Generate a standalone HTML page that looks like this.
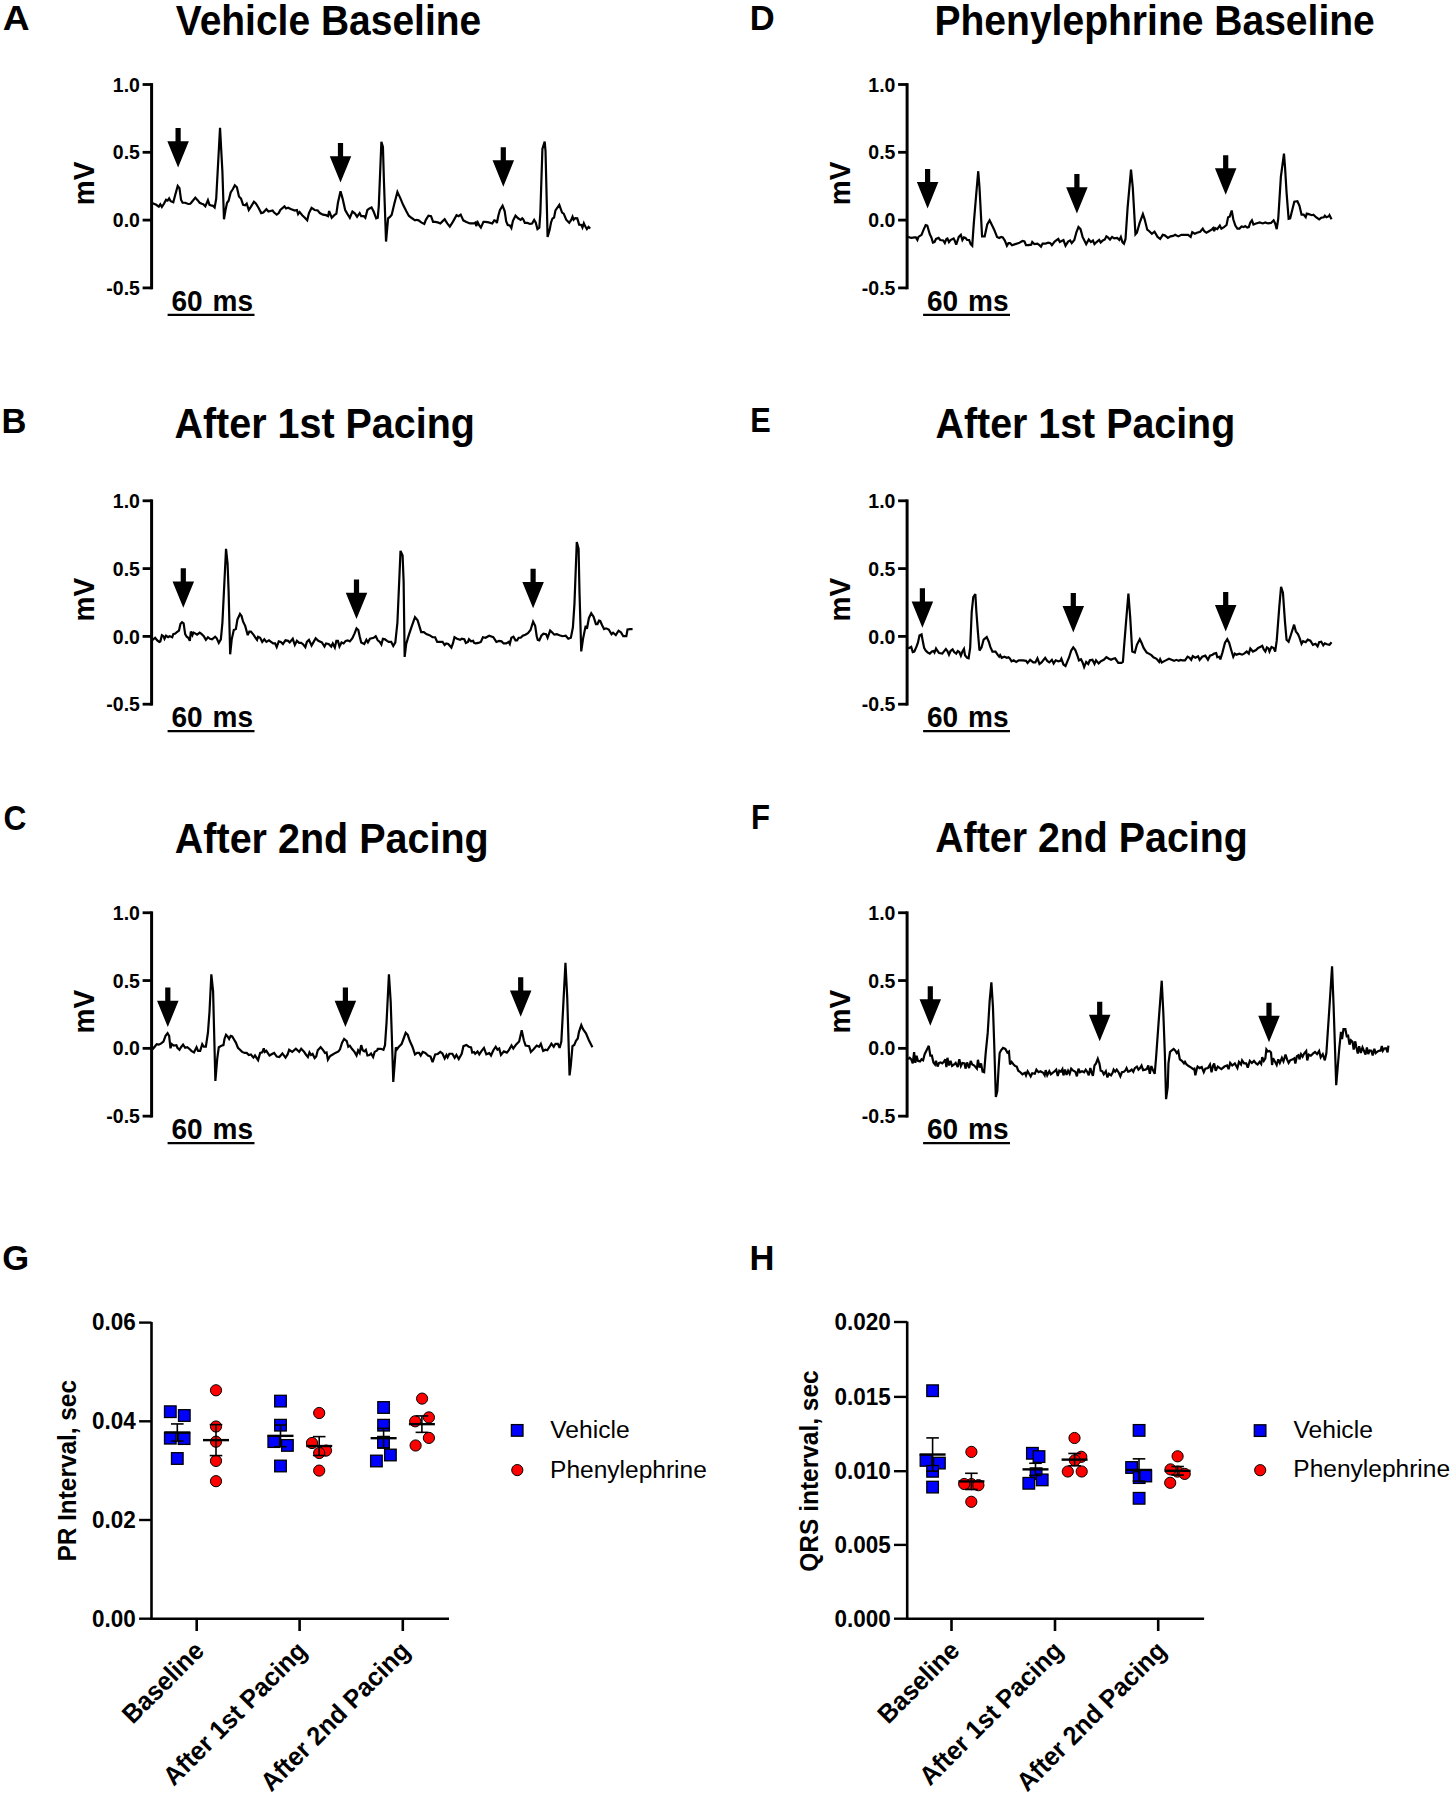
<!DOCTYPE html><html><head><meta charset="utf-8"><style>html,body{margin:0;padding:0;background:#fff;width:1450px;height:1794px;overflow:hidden}svg{display:block}</style></head><body>
<svg width="1450" height="1794" viewBox="0 0 1450 1794" font-family='"Liberation Sans", sans-serif' fill="#000">
<rect width="1450" height="1794" fill="#fff"/>
<line x1="151.6" y1="83.1" x2="151.6" y2="289.3" stroke="#000" stroke-width="3.0"/>
<line x1="142.6" y1="84.5" x2="151.6" y2="84.5" stroke="#000" stroke-width="2.8"/>
<line x1="142.6" y1="152.3" x2="151.6" y2="152.3" stroke="#000" stroke-width="2.8"/>
<line x1="142.6" y1="220.1" x2="151.6" y2="220.1" stroke="#000" stroke-width="2.8"/>
<line x1="142.6" y1="287.9" x2="151.6" y2="287.9" stroke="#000" stroke-width="2.8"/>
<text transform="translate(139.9,91.6) scale(1.0000,1.0400)" text-anchor="end" font-size="19.5" font-weight="bold">1.0</text>
<text transform="translate(139.9,159.4) scale(1.0000,1.0400)" text-anchor="end" font-size="19.5" font-weight="bold">0.5</text>
<text transform="translate(139.9,227.2) scale(1.0000,1.0400)" text-anchor="end" font-size="19.5" font-weight="bold">0.0</text>
<text transform="translate(139.9,295) scale(1.0000,1.0400)" text-anchor="end" font-size="19.5" font-weight="bold">-0.5</text>
<text transform="translate(94,183.4) rotate(-90) scale(1.0000,1.0400)" text-anchor="middle" font-size="28" font-weight="bold">mV</text>
<text transform="translate(171.5,310.8) scale(1.0000,1.0400)" font-size="28" font-weight="bold">60</text>
<text transform="translate(212.6,310.8) scale(1.0000,1.0400)" font-size="28" font-weight="bold">ms</text>
<line x1="167.6" y1="314.9" x2="254.5" y2="314.9" stroke="#000" stroke-width="2.2"/>
<line x1="151.6" y1="499.4" x2="151.6" y2="705.6" stroke="#000" stroke-width="3.0"/>
<line x1="142.6" y1="500.8" x2="151.6" y2="500.8" stroke="#000" stroke-width="2.8"/>
<line x1="142.6" y1="568.6" x2="151.6" y2="568.6" stroke="#000" stroke-width="2.8"/>
<line x1="142.6" y1="636.4" x2="151.6" y2="636.4" stroke="#000" stroke-width="2.8"/>
<line x1="142.6" y1="704.2" x2="151.6" y2="704.2" stroke="#000" stroke-width="2.8"/>
<text transform="translate(139.9,507.9) scale(1.0000,1.0400)" text-anchor="end" font-size="19.5" font-weight="bold">1.0</text>
<text transform="translate(139.9,575.7) scale(1.0000,1.0400)" text-anchor="end" font-size="19.5" font-weight="bold">0.5</text>
<text transform="translate(139.9,643.5) scale(1.0000,1.0400)" text-anchor="end" font-size="19.5" font-weight="bold">0.0</text>
<text transform="translate(139.9,711.3) scale(1.0000,1.0400)" text-anchor="end" font-size="19.5" font-weight="bold">-0.5</text>
<text transform="translate(94,599.7) rotate(-90) scale(1.0000,1.0400)" text-anchor="middle" font-size="28" font-weight="bold">mV</text>
<text transform="translate(171.5,727.1) scale(1.0000,1.0400)" font-size="28" font-weight="bold">60</text>
<text transform="translate(212.6,727.1) scale(1.0000,1.0400)" font-size="28" font-weight="bold">ms</text>
<line x1="167.6" y1="731.2" x2="254.5" y2="731.2" stroke="#000" stroke-width="2.2"/>
<line x1="151.6" y1="911.35" x2="151.6" y2="1117.55" stroke="#000" stroke-width="3.0"/>
<line x1="142.6" y1="912.75" x2="151.6" y2="912.75" stroke="#000" stroke-width="2.8"/>
<line x1="142.6" y1="980.55" x2="151.6" y2="980.55" stroke="#000" stroke-width="2.8"/>
<line x1="142.6" y1="1048.35" x2="151.6" y2="1048.35" stroke="#000" stroke-width="2.8"/>
<line x1="142.6" y1="1116.15" x2="151.6" y2="1116.15" stroke="#000" stroke-width="2.8"/>
<text transform="translate(139.9,919.85) scale(1.0000,1.0400)" text-anchor="end" font-size="19.5" font-weight="bold">1.0</text>
<text transform="translate(139.9,987.65) scale(1.0000,1.0400)" text-anchor="end" font-size="19.5" font-weight="bold">0.5</text>
<text transform="translate(139.9,1055.45) scale(1.0000,1.0400)" text-anchor="end" font-size="19.5" font-weight="bold">0.0</text>
<text transform="translate(139.9,1123.25) scale(1.0000,1.0400)" text-anchor="end" font-size="19.5" font-weight="bold">-0.5</text>
<text transform="translate(94,1011.65) rotate(-90) scale(1.0000,1.0400)" text-anchor="middle" font-size="28" font-weight="bold">mV</text>
<text transform="translate(171.5,1139.05) scale(1.0000,1.0400)" font-size="28" font-weight="bold">60</text>
<text transform="translate(212.6,1139.05) scale(1.0000,1.0400)" font-size="28" font-weight="bold">ms</text>
<line x1="167.6" y1="1143.15" x2="254.5" y2="1143.15" stroke="#000" stroke-width="2.2"/>
<line x1="907.1" y1="83.1" x2="907.1" y2="289.3" stroke="#000" stroke-width="3.0"/>
<line x1="898.1" y1="84.5" x2="907.1" y2="84.5" stroke="#000" stroke-width="2.8"/>
<line x1="898.1" y1="152.3" x2="907.1" y2="152.3" stroke="#000" stroke-width="2.8"/>
<line x1="898.1" y1="220.1" x2="907.1" y2="220.1" stroke="#000" stroke-width="2.8"/>
<line x1="898.1" y1="287.9" x2="907.1" y2="287.9" stroke="#000" stroke-width="2.8"/>
<text transform="translate(895.4,91.6) scale(1.0000,1.0400)" text-anchor="end" font-size="19.5" font-weight="bold">1.0</text>
<text transform="translate(895.4,159.4) scale(1.0000,1.0400)" text-anchor="end" font-size="19.5" font-weight="bold">0.5</text>
<text transform="translate(895.4,227.2) scale(1.0000,1.0400)" text-anchor="end" font-size="19.5" font-weight="bold">0.0</text>
<text transform="translate(895.4,295) scale(1.0000,1.0400)" text-anchor="end" font-size="19.5" font-weight="bold">-0.5</text>
<text transform="translate(849.5,183.4) rotate(-90) scale(1.0000,1.0400)" text-anchor="middle" font-size="28" font-weight="bold">mV</text>
<text transform="translate(927,310.8) scale(1.0000,1.0400)" font-size="28" font-weight="bold">60</text>
<text transform="translate(968.1,310.8) scale(1.0000,1.0400)" font-size="28" font-weight="bold">ms</text>
<line x1="923.1" y1="314.9" x2="1010" y2="314.9" stroke="#000" stroke-width="2.2"/>
<line x1="907.1" y1="499.4" x2="907.1" y2="705.6" stroke="#000" stroke-width="3.0"/>
<line x1="898.1" y1="500.8" x2="907.1" y2="500.8" stroke="#000" stroke-width="2.8"/>
<line x1="898.1" y1="568.6" x2="907.1" y2="568.6" stroke="#000" stroke-width="2.8"/>
<line x1="898.1" y1="636.4" x2="907.1" y2="636.4" stroke="#000" stroke-width="2.8"/>
<line x1="898.1" y1="704.2" x2="907.1" y2="704.2" stroke="#000" stroke-width="2.8"/>
<text transform="translate(895.4,507.9) scale(1.0000,1.0400)" text-anchor="end" font-size="19.5" font-weight="bold">1.0</text>
<text transform="translate(895.4,575.7) scale(1.0000,1.0400)" text-anchor="end" font-size="19.5" font-weight="bold">0.5</text>
<text transform="translate(895.4,643.5) scale(1.0000,1.0400)" text-anchor="end" font-size="19.5" font-weight="bold">0.0</text>
<text transform="translate(895.4,711.3) scale(1.0000,1.0400)" text-anchor="end" font-size="19.5" font-weight="bold">-0.5</text>
<text transform="translate(849.5,599.7) rotate(-90) scale(1.0000,1.0400)" text-anchor="middle" font-size="28" font-weight="bold">mV</text>
<text transform="translate(927,727.1) scale(1.0000,1.0400)" font-size="28" font-weight="bold">60</text>
<text transform="translate(968.1,727.1) scale(1.0000,1.0400)" font-size="28" font-weight="bold">ms</text>
<line x1="923.1" y1="731.2" x2="1010" y2="731.2" stroke="#000" stroke-width="2.2"/>
<line x1="907.1" y1="911.35" x2="907.1" y2="1117.55" stroke="#000" stroke-width="3.0"/>
<line x1="898.1" y1="912.75" x2="907.1" y2="912.75" stroke="#000" stroke-width="2.8"/>
<line x1="898.1" y1="980.55" x2="907.1" y2="980.55" stroke="#000" stroke-width="2.8"/>
<line x1="898.1" y1="1048.35" x2="907.1" y2="1048.35" stroke="#000" stroke-width="2.8"/>
<line x1="898.1" y1="1116.15" x2="907.1" y2="1116.15" stroke="#000" stroke-width="2.8"/>
<text transform="translate(895.4,919.85) scale(1.0000,1.0400)" text-anchor="end" font-size="19.5" font-weight="bold">1.0</text>
<text transform="translate(895.4,987.65) scale(1.0000,1.0400)" text-anchor="end" font-size="19.5" font-weight="bold">0.5</text>
<text transform="translate(895.4,1055.45) scale(1.0000,1.0400)" text-anchor="end" font-size="19.5" font-weight="bold">0.0</text>
<text transform="translate(895.4,1123.25) scale(1.0000,1.0400)" text-anchor="end" font-size="19.5" font-weight="bold">-0.5</text>
<text transform="translate(849.5,1011.65) rotate(-90) scale(1.0000,1.0400)" text-anchor="middle" font-size="28" font-weight="bold">mV</text>
<text transform="translate(927,1139.05) scale(1.0000,1.0400)" font-size="28" font-weight="bold">60</text>
<text transform="translate(968.1,1139.05) scale(1.0000,1.0400)" font-size="28" font-weight="bold">ms</text>
<line x1="923.1" y1="1143.15" x2="1010" y2="1143.15" stroke="#000" stroke-width="2.2"/>
<path d="M152.59,203.28 L156.21,204.83 L158.79,206.69 L160.34,204.31 L161.9,206.9 L163.97,203.79 L166.03,199.86 L167.59,200.69 L169.14,198.41 L170.69,201.21 L173.28,202.24 L175.34,194.48 L177.72,186 L179.48,188.28 L181.03,199.66 L182.59,202.76 L185.17,202.76 L188.28,204 L190.34,203.79 L192.41,201.21 L195.31,197.59 L197.59,200.17 L199.66,202.76 L201.72,203.79 L203.28,204.31 L205.34,206.38 L207.93,200.17 L209.48,204.83 L211.03,205.34 L213.1,205.86 L214.66,207.41 L216.21,198.62 L220.03,127.76 L222.41,171.72 L223.97,219.31 L225.52,210 L227.07,202.76 L228.62,200.69 L230.69,192.41 L232.76,189.31 L234.83,185.38 L236.9,187.24 L238.97,196.55 L241.03,198.62 L243.1,204.83 L245.17,205.34 L246.72,203.59 L248.79,210 L250.86,206.9 L253.97,201.72 L256.03,203.79 L258.62,207.93 L261.21,213.1 L263.28,212.59 L266.38,209.17 L268.45,211.55 L272.59,210.52 L274.14,212.59 L276.72,214.66 L278.79,213.1 L280.34,210 L284.48,206.38 L286.03,208.45 L288.1,207.72 L290.69,208.97 L294.83,210.52 L296.9,210 L298.1,214.14 L299.66,212.07 L302.24,215.17 L304.83,217.76 L307.21,220.34 L308.97,213.1 L311.55,207.93 L314.66,210 L317.76,210.52 L319.83,213.1 L322.93,214.66 L326.03,215.17 L328.1,216.21 L329.14,211.03 L331.72,217.76 L334.31,215.17 L336.38,213.62 L337.93,202.76 L340.52,191.17 L342.59,198.62 L345.17,210 L347.24,213.62 L349.83,217.76 L352.41,211.55 L355,213.62 L357.07,216.72 L359.66,213.1 L361.21,216.21 L363.79,216.21 L365.34,217.76 L367.41,210 L369.48,208.45 L371.55,207.41 L373.62,211.55 L376.21,218.28 L377.76,217.76 L378.79,205.86 L381.38,141.72 L382.93,146.9 L383.97,182.07 L386.03,241.55 L388.1,218.28 L390.17,216.72 L391.72,214.66 L394.31,203.79 L397.41,191.9 L400.52,198.62 L403.1,204.83 L406.21,211.03 L408.79,215.69 L411.38,217.76 L415,220.34 L416.55,219.83 L418.62,220.34 L421.21,222.41 L424.31,223.97 L425.86,219.83 L428.45,215.69 L431.03,216.21 L433.1,221.9 L435.17,221.9 L437.76,222.41 L440.34,223.45 L442.41,221.38 L444.66,219.31 L447.24,223.45 L449.83,226.55 L451.9,223.45 L453.97,219.83 L456.55,215.17 L458.62,216.21 L460.69,214.66 L463.28,220.34 L466.38,221.9 L470,223.45 L474.14,223.45 L475.69,222.41 L476.21,226.03 L477.76,222.41 L479.31,225.52 L480.86,227.59 L483.45,221.9 L485.52,221.9 L488.62,222.41 L492.24,223.45 L494.31,220.34 L495.86,220.86 L496.9,222.93 L498.45,215.17 L500,210 L502.59,205.66 L504.66,211.03 L506.21,221.38 L507.76,225 L509.83,225.52 L511.38,228.1 L512.93,220.86 L515.52,215.69 L518.1,218.28 L520.69,219.83 L522.24,218.28 L523.28,219.31 L524.83,222.93 L527.41,222.93 L530,223.97 L532.07,223.45 L534.14,219.83 L535.69,222.41 L537.45,229.14 L539.31,227.59 L540.34,213.1 L542.41,148.97 L544.69,141.52 L545.52,151.03 L547.59,236.9 L549.66,229.66 L551.03,222.48 L552.41,218.62 L554.07,217.52 L555.45,210.34 L559.31,204.83 L562.07,212.55 L563.72,213.66 L566.21,219.72 L569.24,222.76 L571.17,220 L572.55,216.69 L573.66,219.72 L575.31,218.07 L577.24,218.34 L579.17,224.69 L581.38,224.97 L582.48,227.45 L583.86,223.31 L585.24,226.34 L586.9,229.1 L588.55,226.9 L590.21,228.55" fill="none" stroke="#000" stroke-width="2.2" stroke-linejoin="miter" stroke-miterlimit="3"/>
<path d="M175.5,128.1 L180.7,128.1 L180.7,141.2 L188.85,141.2 L178.1,167.6 L167.35,141.2 L175.5,141.2 Z" fill="#000"/>
<path d="M337.9,143.1 L343.1,143.1 L343.1,156.2 L351.25,156.2 L340.5,182.6 L329.75,156.2 L337.9,156.2 Z" fill="#000"/>
<path d="M500.7,147.2 L505.9,147.2 L505.9,160.3 L514.05,160.3 L503.3,186.7 L492.55,160.3 L500.7,160.3 Z" fill="#000"/>
<path d="M152.59,639.83 L155.17,637.76 L157.24,640.34 L159.31,641.9 L160.34,641.38 L161.9,635.17 L163.45,636.21 L164.48,638.79 L166.03,635.69 L168.1,637.24 L169.66,636.21 L171.21,636.72 L172.24,637.24 L173.28,634.14 L175.34,633.62 L176.9,632.07 L178.97,630.52 L180.52,623.79 L182.07,622.24 L183.62,623.28 L185.17,634.14 L186.72,636.72 L188.28,637.76 L189.83,640.86 L190.86,631.55 L192.41,635.17 L193.45,632.59 L195.52,633.62 L197.07,634.66 L199.66,632.59 L201.72,634.14 L203.79,636.21 L205.86,639.83 L207.93,637.24 L210,638.79 L212.07,639.31 L215.17,636.72 L216.72,638.28 L218.79,642.93 L220.86,639.31 L222.41,622.76 L226.03,548.79 L227.59,563.79 L228.62,591.72 L230.17,654.31 L231.72,639.31 L233.79,630 L235.86,628.97 L237.41,619.66 L240,613.97 L241.55,616.03 L243.1,621.72 L245.17,625.86 L247.76,635.17 L249.31,631.55 L250.86,631.55 L253.45,634.66 L255.52,637.76 L257.07,639.83 L258.1,636.72 L260.17,637.76 L262.24,641.9 L264.31,639.31 L266.38,641.9 L268.97,640.34 L271.03,641.9 L273.1,643.45 L275.17,643.45 L276.72,647.07 L278.79,641.38 L280.86,641.9 L282.93,643.97 L285.52,640.34 L288.1,640.86 L289.66,642.41 L292.76,638.79 L294.83,645 L296.9,640.86 L299.14,642.93 L301.21,642.93 L303.28,644.48 L305.34,647.07 L306.9,641.9 L308.97,639.83 L311.55,645.52 L313.62,641.9 L315.69,638.28 L318.28,640.86 L321.9,642.41 L324.48,646.55 L326.03,643.45 L328.62,643.97 L331.21,646.55 L332.76,643.45 L334.83,647.59 L336.38,640.86 L337.93,640.86 L339.48,646.55 L341.55,642.41 L343.62,643.45 L345.69,640.86 L347.76,640.34 L349.83,641.38 L352.41,638.28 L354.48,633.62 L356.55,628.45 L358.31,630 L359.66,636.21 L361.21,642.41 L364.31,643.97 L366.38,639.83 L367.93,642.41 L370,638.79 L373.62,637.76 L375.69,636.21 L377.76,640.34 L379.83,641.9 L381.38,644.48 L382.93,638.79 L385,639.31 L387.07,640.86 L388.62,641.9 L391.21,641.9 L393.28,646.03 L395.34,642.41 L397.41,622.76 L400.52,550.86 L402.59,555.52 L403.62,581.38 L404.66,656.9 L406.21,643.97 L408.79,635.17 L411.9,625.86 L415,617.07 L417.59,620.17 L419.14,625.34 L421.21,632.07 L423.79,632.07 L426.38,634.14 L429.48,635.17 L432.59,637.24 L435.17,637.24 L436.21,639.83 L437.24,641.9 L439.83,641.9 L442.59,641.9 L444.66,645 L446.21,643.45 L448.28,643.97 L451.38,647.59 L452.93,643.45 L454.48,637.24 L457.07,638.79 L460.17,639.83 L461.72,638.79 L464.31,639.31 L465.86,642.93 L467.93,641.9 L468.97,639.31 L471.03,641.38 L473.1,640.86 L474.14,642.93 L475.69,643.45 L478.28,642.93 L480.86,641.9 L482.93,637.24 L485.52,637.76 L489.14,635.69 L493.28,637.24 L496.38,641.9 L498.97,640.86 L501.55,641.38 L503.62,643.45 L506.21,643.45 L508.79,641.9 L509.83,643.97 L511.38,637.76 L513.45,636.72 L515.52,640.34 L517.07,640.34 L518.62,637.76 L520.69,637.76 L522.76,635.69 L525.34,634.66 L527.93,633.1 L530.52,630 L533.1,621.72 L535.17,625.86 L536.72,636.21 L537.76,639.83 L539.31,640.34 L541.38,635.69 L543.45,633.62 L546.03,634.14 L547.59,637.76 L550.17,630.52 L552.24,632.59 L554.31,634.66 L556.9,634.14 L559.48,635.17 L562.59,636.21 L565.69,635.69 L568.28,638.79 L570.86,637.76 L572.88,627.57 L574.44,604.15 L576.78,542.1 L578.58,548.73 L579.51,592.45 L581.23,651.38 L583.03,638.89 L584.98,629.13 L585.76,625.62 L586.93,628.74 L588.88,618.2 L591.22,613.13 L593.56,616.64 L595.91,624.06 L597.47,624.06 L599.03,620.55 L600.2,620.94 L602.15,625.23 L604.1,629.13 L606.05,628.35 L608.79,629.52 L611.52,634.21 L613.08,632.65 L615.81,634.99 L618.54,630.69 L620.88,632.25 L623.23,636.16 L626.35,636.16 L627.52,629.52 L630.25,629.13 L632.59,629.13" fill="none" stroke="#000" stroke-width="2.2" stroke-linejoin="miter" stroke-miterlimit="3"/>
<path d="M180.7,568.3 L185.9,568.3 L185.9,581.4 L194.05,581.4 L183.3,607.8 L172.55,581.4 L180.7,581.4 Z" fill="#000"/>
<path d="M353.9,579.6 L359.1,579.6 L359.1,592.7 L367.25,592.7 L356.5,619.1 L345.75,592.7 L353.9,592.7 Z" fill="#000"/>
<path d="M530.5,568.8 L535.7,568.8 L535.7,581.9 L543.85,581.9 L533.1,608.3 L522.35,581.9 L530.5,581.9 Z" fill="#000"/>
<path d="M152.59,1049.31 L154.66,1046.72 L156.72,1044.14 L158.79,1044.66 L160.86,1043.62 L163.45,1041.55 L165.52,1035.86 L167.59,1033.28 L169.14,1035.86 L170.48,1048.28 L171.72,1044.14 L173.79,1045.69 L176.38,1045.17 L177.41,1047.76 L179.48,1049.83 L181.03,1047.24 L183.1,1044.66 L185.17,1047.76 L187.24,1047.24 L189.31,1048.79 L191.38,1050.86 L193.97,1052.41 L196.55,1047.24 L198.1,1050.86 L200.17,1050.86 L202.24,1044.14 L203.79,1046.72 L205.86,1046.72 L207.93,1032.76 L209.48,1012.07 L211.34,974.31 L213.1,991.38 L214.14,1032.76 L215.38,1080.97 L217.24,1058.62 L218.79,1047.24 L221.38,1045.69 L223.45,1045.17 L224.48,1038.97 L226.03,1034.83 L227.59,1036.38 L229.14,1038.97 L230.69,1035.86 L232.24,1036.38 L234.31,1040 L235.86,1042.59 L237.93,1047.76 L240,1049.83 L242.07,1051.9 L244.66,1052.93 L246.72,1052.93 L248.79,1055 L250.86,1054.48 L253.45,1057.59 L255,1055.52 L258.1,1060.17 L260.17,1052.93 L262.24,1052.41 L263.79,1048.28 L264.83,1051.9 L266.38,1050.86 L269.48,1055.52 L272.07,1053.97 L274.14,1052.93 L276.72,1056.55 L279.31,1057.07 L282.41,1053.45 L285.52,1057.59 L287.59,1054.48 L289.14,1049.83 L292.24,1051.9 L295.86,1048.79 L299.14,1051.9 L301.21,1048.79 L303.79,1051.38 L305.86,1054.48 L307.93,1057.07 L309.48,1052.41 L311.03,1055 L312.59,1053.97 L314.66,1058.1 L316.21,1056.55 L317.76,1050.34 L320.66,1047.24 L322.93,1049.83 L325,1052.93 L326.55,1052.41 L327.9,1059.66 L330.17,1056.03 L332.76,1054.48 L335.34,1052.93 L338.45,1051.38 L340,1049.31 L342.07,1042.59 L344.14,1038.97 L346.72,1041.03 L348.28,1046.72 L349.83,1045.69 L351.9,1048.79 L354.48,1051.9 L356.55,1055.52 L358.1,1050.34 L359.66,1052.93 L361.21,1045.17 L362.76,1050.34 L364.31,1051.38 L365.86,1049.83 L367.41,1055.52 L369.48,1055 L371.03,1053.45 L373.1,1057.07 L374.66,1051.9 L377.24,1050.34 L377.76,1048.79 L380.86,1048.79 L383.45,1049.83 L385,1045.17 L386.55,1022.41 L388.93,974.31 L390.69,1001.72 L391.72,1032.76 L393.28,1081.9 L394.83,1061.72 L395.86,1047.24 L396.9,1049.31 L398.45,1047.24 L401.55,1044.14 L403.1,1040 L405.69,1032.76 L407.76,1034.83 L409.83,1041.03 L412.41,1046.72 L415,1054.48 L417.07,1052.93 L419.14,1052.93 L420.69,1055.52 L422.76,1051.9 L425.34,1052.93 L427.93,1055.52 L430.52,1056.55 L432.59,1062.24 L435.17,1054.48 L437.76,1053.97 L440.34,1051.9 L442.41,1053.45 L444.69,1058.45 L446.45,1054.93 L447.62,1057.28 L449.38,1053.76 L452.31,1053.76 L454.66,1057.86 L456.41,1054.93 L458.76,1059.03 L461.69,1053.76 L463.45,1046.14 L466.38,1044.97 L468.72,1046.72 L471.07,1047.31 L472.24,1052.59 L474,1052 L475.17,1053.76 L477.52,1051.41 L479.28,1054.34 L481.62,1050.83 L483.97,1047.9 L486.31,1054.34 L489.24,1053.17 L491,1055.52 L493.34,1050.24 L495.69,1046.72 L497.45,1049.66 L499.21,1048.48 L500.97,1054.93 L503.9,1051.41 L506.83,1052.59 L509.17,1049.66 L511.52,1045.55 L513.28,1048.48 L516.21,1044.38 L519.14,1041.45 L521.72,1030.31 L523.83,1040.28 L525.59,1045.55 L529.1,1046.14 L530.86,1052 L533.79,1049.07 L536.72,1045.55 L539.07,1046.72 L540.83,1043.79 L543.17,1050.83 L545.52,1049.66 L547.28,1050.24 L549.62,1046.72 L551.38,1043.79 L553.72,1046.72 L555.48,1043.79 L557.83,1043.79 L559.59,1047.9 L561.34,1041.45 L563.1,1008.62 L565.45,962.9 L567.21,996.9 L569.55,1075.45 L570.72,1066.07 L572.48,1046.14 L574.24,1044.97 L576,1040.86 L577.76,1038.52 L578.93,1032.07 L581.28,1025.03 L583.03,1029.14 L585.97,1033.24 L588.9,1040.28 L592.41,1047.31" fill="none" stroke="#000" stroke-width="2.2" stroke-linejoin="miter" stroke-miterlimit="3"/>
<path d="M165.2,987.6 L170.4,987.6 L170.4,1000.7 L178.55,1000.7 L167.8,1027.1 L157.05,1000.7 L165.2,1000.7 Z" fill="#000"/>
<path d="M342.8,987.6 L348,987.6 L348,1000.7 L356.15,1000.7 L345.4,1027.1 L334.65,1000.7 L342.8,1000.7 Z" fill="#000"/>
<path d="M518.1,977.3 L523.3,977.3 L523.3,990.4 L531.45,990.4 L520.7,1016.8 L509.95,990.4 L518.1,990.4 Z" fill="#000"/>
<path d="M908.1,236.9 L911.21,237.93 L914.83,237.41 L915.86,237.41 L917.41,240 L918.45,236.9 L921.55,234.83 L923.62,229.66 L925.69,225 L927.24,225.52 L929.83,234.31 L931.38,237.41 L932.93,242.59 L934.48,242.07 L936.03,238.97 L938.62,237.93 L940.17,240 L943.28,240.52 L944.83,243.1 L946.38,238.97 L947.41,238.45 L948.97,242.07 L950.52,240 L953.62,238.45 L954.66,240.52 L956.21,244.66 L957.76,240 L958.79,236.9 L960.86,234.83 L962.41,240 L963.97,237.41 L965.52,237.93 L967.07,240 L969.14,240 L970.69,244.14 L972.24,245.69 L973.79,223.45 L976.38,192.41 L978.24,171.21 L979.48,187.24 L982.07,236.38 L984.66,236.38 L987.24,224.48 L989.62,220.34 L991.9,225 L993.97,229.14 L997.07,236.9 L999.14,237.93 L1001.21,236.9 L1002.76,237.41 L1004.83,240.52 L1006.9,245.69 L1008.45,243.1 L1010,243.1 L1012.07,245.17 L1015.17,244.14 L1018.79,243.1 L1022.41,241.03 L1024.48,241.55 L1026.03,245.17 L1028.1,245.17 L1031.21,244.66 L1032.24,242.07 L1034.31,244.14 L1037.41,243.62 L1039.48,245.17 L1041.03,246.72 L1042.59,243.62 L1045.69,243.62 L1048.28,242.59 L1050.34,243.1 L1051.9,245.17 L1054.66,241.55 L1058.28,238.97 L1059.83,242.07 L1063.45,240 L1065.52,245.69 L1068.1,241.55 L1070.17,240.52 L1071.72,243.1 L1074.31,240 L1076.38,232.24 L1078.45,227.07 L1080.52,229.14 L1082.59,236.9 L1084.14,240 L1086.21,244.14 L1088.79,239.48 L1090.86,242.07 L1092.93,240.52 L1094.48,244.14 L1096.55,242.07 L1099.14,240 L1100.69,242.59 L1102.76,240.52 L1104.83,239.48 L1106.38,236.38 L1107.93,237.41 L1110,239.48 L1112.07,236.9 L1114.14,238.45 L1117.24,237.93 L1119.31,240 L1120.86,236.9 L1122.41,242.07 L1123.97,243.62 L1125.52,238.97 L1127.59,207.93 L1131,169.66 L1132.76,187.24 L1135.45,234.31 L1136.9,232.76 L1139.48,223.45 L1142.9,214.14 L1144.66,219.31 L1147.24,229.66 L1149.31,231.21 L1151.9,233.79 L1154.48,231.72 L1157.59,236.9 L1160.17,238.97 L1162.76,234.83 L1164.83,235.34 L1167.93,237.93 L1170.52,236.38 L1173.1,235.86 L1175.17,234.83 L1178.28,236.38 L1181.38,234.83 L1184.48,234.83 L1188.1,234.83 L1190.69,236.9 L1192.24,232.24 L1194.83,233.79 L1196.9,232.76 L1200.17,231.72 L1202.76,228.62 L1204.31,231.21 L1206.38,232.76 L1208.97,231.21 L1211.55,229.66 L1213.1,228.1 L1214.14,231.21 L1215.17,228.1 L1217.24,229.14 L1219.83,225.52 L1221.38,228.62 L1223.97,227.07 L1226.55,225 L1228.1,217.24 L1229.66,216.72 L1231.72,210.52 L1233.28,219.31 L1235.34,225.52 L1237.41,228.62 L1239.48,228.62 L1241.55,226.55 L1243.62,227.07 L1245.17,226.03 L1247.24,227.59 L1248.79,227.07 L1250.34,222.41 L1251.9,220.34 L1253.45,224.48 L1256.03,223.45 L1259.66,222.41 L1262.76,223.45 L1265.34,222.41 L1267.93,223.45 L1271.03,222.93 L1273.62,220.34 L1275.17,223.45 L1276.72,229.14 L1278.28,218.28 L1280.86,176.9 L1283.97,153.62 L1285,166.55 L1286.55,192.41 L1288.62,218.79 L1290.17,218.28 L1292.24,210 L1294.31,201.72 L1297.41,201.21 L1299.48,205.86 L1301.55,214.66 L1303.62,214.66 L1305.69,217.24 L1306.72,213.62 L1308.79,214.14 L1311.9,215.17 L1313.45,214.66 L1316.03,217.24 L1319.14,219.31 L1321.21,217.76 L1323.79,217.24 L1324.83,215.69 L1326.38,217.24 L1328.97,216.21 L1329.48,215.17 L1331.55,219.31" fill="none" stroke="#000" stroke-width="2.2" stroke-linejoin="miter" stroke-miterlimit="3"/>
<path d="M925,168.9 L930.2,168.9 L930.2,182 L938.35,182 L927.6,208.4 L916.85,182 L925,182 Z" fill="#000"/>
<path d="M1074.3,174.1 L1079.5,174.1 L1079.5,187.2 L1087.65,187.2 L1076.9,213.6 L1066.15,187.2 L1074.3,187.2 Z" fill="#000"/>
<path d="M1223.1,155.2 L1228.3,155.2 L1228.3,168.3 L1236.45,168.3 L1225.7,194.7 L1214.95,168.3 L1223.1,168.3 Z" fill="#000"/>
<path d="M908.1,648.45 L911.21,646.9 L912.76,652.07 L914.31,651.55 L916.38,646.9 L917.93,642.76 L919.48,635.52 L921.55,634.48 L923.1,642.76 L924.14,647.93 L925.69,650.52 L927.76,652.59 L929.83,653.62 L931.9,651.55 L933.45,651.03 L934.48,652.59 L936.03,648.45 L937.59,651.03 L939.14,653.1 L942.24,653.62 L943.79,651.55 L945.86,648.97 L947.41,651.03 L948.97,654.66 L950.52,651.03 L952.59,649.48 L954.14,652.07 L956.21,653.62 L957.76,651.03 L959.31,652.07 L960.86,655.69 L962.41,651.55 L963.97,648.97 L965,655.17 L967.07,657.76 L968.62,658.28 L970.17,647.93 L971.72,611.72 L973.28,597.24 L975.34,594.14 L976.38,611.72 L977.93,632.41 L979.48,650.52 L981.55,647.41 L983.62,639.66 L986.72,637.07 L988.79,641.72 L990.34,646.9 L992.41,651.55 L995.52,651.55 L997.59,654.66 L999.14,656.72 L1000.17,655.17 L1001.72,657.76 L1004.31,656.72 L1006.9,657.76 L1008.45,657.24 L1010,658.79 L1011.55,661.38 L1013.62,660.34 L1016.21,661.9 L1018.79,660.34 L1022.93,660.34 L1026.03,660.86 L1027.59,662.93 L1030.17,659.83 L1033.28,662.41 L1035.34,662.41 L1037.41,658.28 L1039.48,663.97 L1041.55,662.41 L1045.17,657.76 L1047.24,660.86 L1049.31,662.41 L1051.9,659.83 L1053.62,663.45 L1055.69,660.34 L1058.28,661.38 L1060.34,660.86 L1061.38,658.79 L1063.45,664.48 L1065.52,666.03 L1067.59,660.86 L1069.14,657.24 L1071.21,650.52 L1073.28,647.41 L1075.34,650 L1077.41,655.69 L1078.97,660.34 L1081.03,659.31 L1082.59,662.41 L1084.14,667.07 L1086.21,661.9 L1088.28,663.97 L1089.83,660.34 L1092.41,659.83 L1094.48,663.97 L1096.03,660.34 L1098.62,663.45 L1100.69,661.38 L1103.79,659.83 L1106.38,657.24 L1108.97,658.79 L1111.03,659.83 L1113.1,658.79 L1115.17,658.28 L1118.28,662.93 L1121.38,662.93 L1122.93,661.9 L1123.97,647.93 L1126.03,622.07 L1128.41,593.62 L1130.17,616.9 L1132.24,651.55 L1134.83,652.59 L1136.9,644.83 L1139.79,639.14 L1141.55,642.76 L1143.62,647.93 L1146.72,652.59 L1148.79,653.62 L1151.38,655.17 L1153.45,657.24 L1156.55,658.79 L1159.14,661.9 L1160.17,659.31 L1161.72,662.41 L1164.83,660.86 L1168.97,658.79 L1171.55,659.83 L1174.14,660.86 L1176.21,659.83 L1178.79,660.86 L1180.34,659.83 L1182.41,660.34 L1185,660.34 L1187.59,656.72 L1189.66,657.76 L1191.21,659.83 L1192.76,656.21 L1195.34,657.76 L1198.1,656.21 L1199.66,659.83 L1202.24,656.72 L1205.34,655.69 L1207.93,659.83 L1210,655.69 L1212.59,654.66 L1214.14,653.62 L1216.21,653.1 L1217.24,657.24 L1219.31,656.72 L1220.34,659.31 L1222.41,652.59 L1225,642.76 L1227.28,639.14 L1229.14,642.76 L1231.21,650 L1233.28,656.72 L1234.83,653.62 L1236.38,654.66 L1239.48,653.62 L1242.07,654.66 L1244.14,653.62 L1246.72,651.55 L1248.79,653.62 L1250.34,648.45 L1252.93,651.55 L1256.03,650 L1258.1,647.93 L1260.17,646.9 L1262.24,645.86 L1263.79,649.48 L1265.34,651.55 L1266.9,647.41 L1268.45,648.45 L1269.48,651.55 L1271.55,646.9 L1273.62,647.93 L1275.17,651.55 L1276.72,640.69 L1279.31,606.55 L1281.07,586.9 L1282.93,592.59 L1285,622.07 L1286.55,639.66 L1288.62,641.72 L1290.69,635.52 L1294.1,624.66 L1295.86,631.38 L1297.93,633.97 L1299.48,637.59 L1301.55,643.79 L1303.1,641.21 L1305.69,642.24 L1307.76,639.66 L1310.34,640.69 L1312.93,644.83 L1315.52,643.79 L1317.59,646.38 L1319.14,642.24 L1321.21,641.72 L1323.28,645.34 L1324.83,643.28 L1326.9,644.31 L1329.48,644.83 L1331.55,642.24" fill="none" stroke="#000" stroke-width="2.2" stroke-linejoin="miter" stroke-miterlimit="3"/>
<path d="M919.8,588.3 L925,588.3 L925,601.4 L933.15,601.4 L922.4,627.8 L911.65,601.4 L919.8,601.4 Z" fill="#000"/>
<path d="M1070.7,592.9 L1075.9,592.9 L1075.9,606 L1084.05,606 L1073.3,632.4 L1062.55,606 L1070.7,606 Z" fill="#000"/>
<path d="M1223.1,591.9 L1228.3,591.9 L1228.3,605 L1236.45,605 L1225.7,631.4 L1214.95,605 L1223.1,605 Z" fill="#000"/>
<path d="M908.1,1059.31 L909.66,1057.76 L911.21,1059.31 L912.76,1063.45 L914.1,1052.07 L915.34,1062.93 L916.59,1055.69 L917.93,1060.86 L920,1061.38 L921.55,1059.31 L923.1,1060.34 L924.66,1054.14 L926.72,1050 L928.79,1045.86 L930.34,1055.69 L931.9,1055.69 L933.45,1062.41 L935,1064.48 L936.03,1060.86 L937.59,1066.55 L939.14,1062.93 L940.69,1062.41 L942.24,1063.45 L943.79,1061.9 L945.34,1059.31 L946.38,1067.07 L947.41,1057.76 L948.97,1065.52 L950.52,1060.86 L952.07,1066.03 L954.14,1064.48 L955.69,1062.93 L957.76,1067.07 L959.31,1059.31 L960.86,1066.03 L962.41,1062.93 L964.48,1063.45 L965.52,1068.62 L967.07,1062.41 L969.14,1068.1 L970.69,1060.86 L972.24,1064.48 L974.31,1065.52 L976.9,1068.62 L977.93,1059.83 L979.48,1067.59 L981.03,1063.45 L982.59,1071.72 L984.14,1072.24 L985.69,1053.1 L987.76,1032.41 L989.62,1001.38 L991.38,982.24 L992.93,1006.55 L994.17,1042.76 L995.83,1097.07 L997.28,1091.38 L998.62,1067.59 L999.66,1053.1 L1001.21,1050 L1003.07,1047.93 L1005.34,1048.97 L1007.41,1052.59 L1008.97,1051.55 L1010,1064.48 L1011.55,1061.9 L1013.62,1064.48 L1015.17,1066.03 L1016.72,1066.55 L1018.28,1070.69 L1020.34,1072.24 L1022.41,1074.31 L1025,1072.76 L1026.03,1075.34 L1027.59,1071.21 L1029.14,1073.79 L1030.69,1076.38 L1032.24,1073.28 L1034.83,1073.79 L1036.38,1069.66 L1038.45,1072.24 L1040.52,1071.21 L1043.1,1072.76 L1044.66,1075.34 L1045.69,1070.17 L1047.24,1075.34 L1049.31,1071.21 L1050.86,1074.31 L1054.14,1071.72 L1056.21,1069.66 L1057.76,1075.86 L1059.31,1070.69 L1060.86,1071.72 L1062.41,1069.14 L1063.45,1075.34 L1065,1069.66 L1066.55,1074.83 L1068.1,1070.69 L1069.66,1073.79 L1071.21,1068.62 L1073.28,1070.69 L1075.34,1071.72 L1076.9,1076.38 L1078.45,1068.62 L1080,1072.24 L1082.07,1071.21 L1084.14,1072.24 L1085.69,1069.66 L1087.24,1071.72 L1088.79,1075.34 L1090.34,1068.1 L1091.9,1073.28 L1092.93,1075.86 L1094.48,1065.52 L1096.03,1063.45 L1097.79,1058.79 L1099.45,1063.45 L1100.69,1070.69 L1102.24,1071.21 L1103.79,1074.31 L1105.86,1071.21 L1107.41,1077.41 L1108.97,1073.79 L1111.03,1075.34 L1112.59,1072.76 L1113.62,1069.66 L1115.17,1071.72 L1116.72,1069.66 L1118.79,1072.76 L1120.34,1076.38 L1121.9,1072.24 L1123.97,1071.72 L1125.52,1070.17 L1126.55,1068.1 L1128.1,1071.72 L1129.66,1071.21 L1131.72,1069.66 L1133.28,1071.72 L1134.83,1068.1 L1136.9,1066.55 L1138.45,1069.66 L1140,1068.1 L1141.55,1065.52 L1143.1,1070.17 L1145.17,1069.66 L1146.72,1069.14 L1148.28,1065.52 L1149.83,1073.79 L1151.38,1066.03 L1152.93,1070.17 L1154.69,1073.79 L1156.03,1058.28 L1158.62,1022.07 L1161.72,980.69 L1163.28,1011.72 L1164.83,1053.1 L1166.07,1099.14 L1167.72,1087.24 L1168.45,1063.45 L1170,1052.07 L1171.55,1050.52 L1173.62,1048.97 L1175.17,1050.52 L1176.72,1053.1 L1178.28,1051.03 L1179.83,1059.31 L1181.9,1060.86 L1183.97,1063.45 L1185,1061.9 L1186.55,1064.48 L1188.62,1066.03 L1191.21,1067.59 L1193.28,1069.14 L1194.31,1068.62 L1195.34,1075.34 L1196.9,1068.62 L1197.59,1066.55 L1199.66,1068.1 L1201.72,1067.07 L1203.79,1072.24 L1205.34,1068.62 L1207.93,1068.1 L1210,1064.48 L1211.55,1072.24 L1213.1,1065.52 L1214.14,1063.45 L1215.69,1070.69 L1217.76,1066.55 L1221.38,1069.14 L1224.48,1066.55 L1227.07,1065.52 L1228.62,1069.14 L1230.17,1062.93 L1232.24,1065.52 L1234.83,1063.45 L1237.41,1068.1 L1238.97,1061.9 L1241.03,1064.48 L1242.07,1060.34 L1244.14,1063.45 L1246.21,1063.45 L1247.76,1067.59 L1249.83,1060.86 L1251.9,1062.93 L1253.97,1060.86 L1256.03,1063.45 L1257.59,1064.48 L1259.66,1061.9 L1261.21,1063.97 L1262.24,1057.24 L1263.79,1060.86 L1265.34,1058.28 L1266.38,1049.48 L1267.93,1051.55 L1269.48,1051.03 L1271.03,1052.59 L1272.07,1065 L1273.1,1058.28 L1275.17,1061.9 L1276.72,1065 L1278.28,1059.31 L1279.83,1062.93 L1281.9,1057.76 L1283.45,1061.38 L1285.52,1054.66 L1287.07,1059.31 L1288.62,1062.93 L1290.17,1060.34 L1292.76,1059.31 L1294.31,1058.28 L1295.34,1063.45 L1296.9,1056.21 L1298.45,1055.17 L1299.48,1059.31 L1301.03,1054.14 L1302.59,1056.72 L1304.14,1053.62 L1306.21,1051.03 L1307.24,1060.34 L1308.79,1054.66 L1310.86,1055.69 L1312.93,1053.62 L1315,1052.07 L1317.07,1054.14 L1319.14,1051.03 L1320.69,1057.24 L1322.76,1054.14 L1324.83,1060.34 L1326.38,1053.1 L1329.48,1006.55 L1332.07,966.21 L1333.62,1006.55 L1336.21,1085.17 L1339.31,1047.93 L1340.97,1031.93 L1342.07,1039.1 L1343.45,1029.17 L1345.38,1029.17 L1346.76,1036.34 L1348.14,1035.79 L1349.52,1044.62 L1350.9,1040.21 L1352.55,1041.86 L1353.66,1049.59 L1355.31,1041.31 L1356.14,1046.28 L1357.79,1053.45 L1359.17,1046.28 L1360.83,1052.9 L1362.48,1047.38 L1364.14,1051.24 L1365.52,1054.55 L1366.9,1047.38 L1368.28,1054 L1369.66,1050.41 L1371.31,1050.69 L1372.69,1055.38 L1374.34,1048.76 L1375.72,1053.17 L1377.93,1051.24 L1379.59,1050.69 L1380.69,1050.69 L1381.79,1046 L1382.9,1050.69 L1384.28,1048.48 L1385.93,1048.21 L1387.59,1052.34 L1388.41,1045.72" fill="none" stroke="#000" stroke-width="2.2" stroke-linejoin="miter" stroke-miterlimit="3"/>
<path d="M927.7,986.2 L932.9,986.2 L932.9,999.3 L941.05,999.3 L930.3,1025.7 L919.55,999.3 L927.7,999.3 Z" fill="#000"/>
<path d="M1097.1,1001.7 L1102.3,1001.7 L1102.3,1014.8 L1110.45,1014.8 L1099.7,1041.2 L1088.95,1014.8 L1097.1,1014.8 Z" fill="#000"/>
<path d="M1266.4,1002.7 L1271.6,1002.7 L1271.6,1015.8 L1279.75,1015.8 L1269,1042.2 L1258.25,1015.8 L1266.4,1015.8 Z" fill="#000"/>
<text transform="translate(2.8,30.4) scale(1.0800,1.0400)" font-size="34.5" font-weight="bold">A</text>
<text transform="translate(1.6,432.9) scale(1.0000,1.0400)" font-size="34.5" font-weight="bold">B</text>
<text transform="translate(3.6,830) scale(0.9200,1.0400)" font-size="34.5" font-weight="bold">C</text>
<text transform="translate(749.7,30) scale(1.0000,1.0400)" font-size="34.5" font-weight="bold">D</text>
<text transform="translate(750.3,432.4) scale(0.8900,1.0400)" font-size="34.5" font-weight="bold">E</text>
<text transform="translate(750.9,829.1) scale(0.9000,1.0400)" font-size="34.5" font-weight="bold">F</text>
<text transform="translate(175.8,34.7) scale(0.9747,1.0400)" font-size="40" font-weight="bold">Vehicle Baseline</text>
<text transform="translate(174.4,437.9) scale(0.9870,1.0400)" font-size="40" font-weight="bold">After 1st Pacing</text>
<text transform="translate(174.8,853.1) scale(0.9880,1.0400)" font-size="40" font-weight="bold">After 2nd Pacing</text>
<text transform="translate(934.5,34.8) scale(0.9760,1.0400)" font-size="40" font-weight="bold">Phenylephrine Baseline</text>
<text transform="translate(935.6,438) scale(0.9840,1.0400)" font-size="40" font-weight="bold">After 1st Pacing</text>
<text transform="translate(935.2,852.4) scale(0.9840,1.0400)" font-size="40" font-weight="bold">After 2nd Pacing</text>
<line x1="151.5" y1="1322" x2="151.5" y2="1619.9" stroke="#000" stroke-width="2.6"/>
<line x1="150.2" y1="1618.7" x2="449" y2="1618.7" stroke="#000" stroke-width="2.6"/>
<line x1="139.1" y1="1322.6" x2="151.5" y2="1322.6" stroke="#000" stroke-width="2.4"/>
<text transform="translate(135.7,1330.4) scale(1.0000,1.0400)" text-anchor="end" font-size="22.5" font-weight="bold">0.06</text>
<line x1="139.1" y1="1421.3" x2="151.5" y2="1421.3" stroke="#000" stroke-width="2.4"/>
<text transform="translate(135.7,1429.1) scale(1.0000,1.0400)" text-anchor="end" font-size="22.5" font-weight="bold">0.04</text>
<line x1="139.1" y1="1520" x2="151.5" y2="1520" stroke="#000" stroke-width="2.4"/>
<text transform="translate(135.7,1527.8) scale(1.0000,1.0400)" text-anchor="end" font-size="22.5" font-weight="bold">0.02</text>
<line x1="139.1" y1="1618.7" x2="151.5" y2="1618.7" stroke="#000" stroke-width="2.4"/>
<text transform="translate(135.7,1626.5) scale(1.0000,1.0400)" text-anchor="end" font-size="22.5" font-weight="bold">0.00</text>
<line x1="196.7" y1="1618.7" x2="196.7" y2="1631" stroke="#000" stroke-width="2.6"/>
<line x1="299.6" y1="1618.7" x2="299.6" y2="1631" stroke="#000" stroke-width="2.6"/>
<line x1="402.8" y1="1618.7" x2="402.8" y2="1631" stroke="#000" stroke-width="2.6"/>
<text transform="translate(205.5,1652.4) rotate(-45) scale(1.0000,1.0400)" text-anchor="end" font-size="25" font-weight="bold">Baseline</text>
<text transform="translate(308.4,1652.4) rotate(-45) scale(1.0000,1.0400)" text-anchor="end" font-size="25" font-weight="bold">After 1st Pacing</text>
<text transform="translate(411.6,1652.4) rotate(-45) scale(1.0000,1.0400)" text-anchor="end" font-size="25" font-weight="bold">After 2nd Pacing</text>
<text transform="translate(76.3,1470.8) rotate(-90) scale(0.9950,1.0300)" text-anchor="middle" font-size="24.5" font-weight="bold">PR Interval, sec</text>
<rect x="164.5" y="1405.9" width="11.6" height="11.6" fill="#0000ff" stroke="#000" stroke-width="1.3"/>
<rect x="178.5" y="1409.7" width="11.6" height="11.6" fill="#0000ff" stroke="#000" stroke-width="1.3"/>
<rect x="164.5" y="1432.4" width="11.6" height="11.6" fill="#0000ff" stroke="#000" stroke-width="1.3"/>
<rect x="178.3" y="1432.8" width="11.6" height="11.6" fill="#0000ff" stroke="#000" stroke-width="1.3"/>
<rect x="171.5" y="1452.7" width="11.6" height="11.6" fill="#0000ff" stroke="#000" stroke-width="1.3"/>
<circle cx="216" cy="1390.3" r="5.6" fill="#ff0000" stroke="#000" stroke-width="1.0"/>
<circle cx="216" cy="1426.5" r="5.6" fill="#ff0000" stroke="#000" stroke-width="1.0"/>
<circle cx="216" cy="1441.7" r="5.6" fill="#ff0000" stroke="#000" stroke-width="1.0"/>
<circle cx="216" cy="1460.9" r="5.6" fill="#ff0000" stroke="#000" stroke-width="1.0"/>
<circle cx="216" cy="1481.2" r="5.6" fill="#ff0000" stroke="#000" stroke-width="1.0"/>
<rect x="274.7" y="1395.3" width="11.6" height="11.6" fill="#0000ff" stroke="#000" stroke-width="1.3"/>
<rect x="274.7" y="1419.4" width="11.6" height="11.6" fill="#0000ff" stroke="#000" stroke-width="1.3"/>
<rect x="268" y="1435.8" width="11.6" height="11.6" fill="#0000ff" stroke="#000" stroke-width="1.3"/>
<rect x="281.6" y="1439.6" width="11.6" height="11.6" fill="#0000ff" stroke="#000" stroke-width="1.3"/>
<rect x="274.7" y="1460.2" width="11.6" height="11.6" fill="#0000ff" stroke="#000" stroke-width="1.3"/>
<circle cx="319.2" cy="1413" r="5.6" fill="#ff0000" stroke="#000" stroke-width="1.0"/>
<circle cx="312" cy="1443" r="5.6" fill="#ff0000" stroke="#000" stroke-width="1.0"/>
<circle cx="326" cy="1450.6" r="5.6" fill="#ff0000" stroke="#000" stroke-width="1.0"/>
<circle cx="319.2" cy="1453" r="5.6" fill="#ff0000" stroke="#000" stroke-width="1.0"/>
<circle cx="319.2" cy="1470.6" r="5.6" fill="#ff0000" stroke="#000" stroke-width="1.0"/>
<rect x="377.8" y="1401.7" width="11.6" height="11.6" fill="#0000ff" stroke="#000" stroke-width="1.3"/>
<rect x="377.8" y="1419.4" width="11.6" height="11.6" fill="#0000ff" stroke="#000" stroke-width="1.3"/>
<rect x="377.7" y="1436.4" width="11.6" height="11.6" fill="#0000ff" stroke="#000" stroke-width="1.3"/>
<rect x="384.6" y="1449.2" width="11.6" height="11.6" fill="#0000ff" stroke="#000" stroke-width="1.3"/>
<rect x="370.6" y="1455.2" width="11.6" height="11.6" fill="#0000ff" stroke="#000" stroke-width="1.3"/>
<circle cx="422.1" cy="1398.6" r="5.6" fill="#ff0000" stroke="#000" stroke-width="1.0"/>
<circle cx="428.9" cy="1417.4" r="5.6" fill="#ff0000" stroke="#000" stroke-width="1.0"/>
<circle cx="415.2" cy="1421.3" r="5.6" fill="#ff0000" stroke="#000" stroke-width="1.0"/>
<circle cx="428.9" cy="1437.9" r="5.6" fill="#ff0000" stroke="#000" stroke-width="1.0"/>
<circle cx="415.6" cy="1445.5" r="5.6" fill="#ff0000" stroke="#000" stroke-width="1.0"/>
<line x1="177.3" y1="1423.93" x2="177.3" y2="1441.07" stroke="#000" stroke-width="1.6"/>
<line x1="171" y1="1423.93" x2="183.6" y2="1423.93" stroke="#000" stroke-width="1.6"/>
<line x1="171" y1="1441.07" x2="183.6" y2="1441.07" stroke="#000" stroke-width="1.6"/>
<line x1="164.3" y1="1432.5" x2="190.3" y2="1432.5" stroke="#000" stroke-width="2.4"/>
<line x1="216" y1="1424.65" x2="216" y2="1455.59" stroke="#000" stroke-width="1.6"/>
<line x1="209.7" y1="1424.65" x2="222.3" y2="1424.65" stroke="#000" stroke-width="1.6"/>
<line x1="209.7" y1="1455.59" x2="222.3" y2="1455.59" stroke="#000" stroke-width="1.6"/>
<line x1="203" y1="1440.12" x2="229" y2="1440.12" stroke="#000" stroke-width="2.4"/>
<line x1="280.5" y1="1425.01" x2="280.5" y2="1446.71" stroke="#000" stroke-width="1.6"/>
<line x1="274.2" y1="1425.01" x2="286.8" y2="1425.01" stroke="#000" stroke-width="1.6"/>
<line x1="274.2" y1="1446.71" x2="286.8" y2="1446.71" stroke="#000" stroke-width="1.6"/>
<line x1="267.5" y1="1435.86" x2="293.5" y2="1435.86" stroke="#000" stroke-width="2.4"/>
<line x1="319.2" y1="1436.62" x2="319.2" y2="1455.46" stroke="#000" stroke-width="1.6"/>
<line x1="312.9" y1="1436.62" x2="325.5" y2="1436.62" stroke="#000" stroke-width="1.6"/>
<line x1="312.9" y1="1455.46" x2="325.5" y2="1455.46" stroke="#000" stroke-width="1.6"/>
<line x1="306.2" y1="1446.04" x2="332.2" y2="1446.04" stroke="#000" stroke-width="2.4"/>
<line x1="383.6" y1="1428.36" x2="383.6" y2="1448" stroke="#000" stroke-width="1.6"/>
<line x1="377.3" y1="1428.36" x2="389.9" y2="1428.36" stroke="#000" stroke-width="1.6"/>
<line x1="377.3" y1="1448" x2="389.9" y2="1448" stroke="#000" stroke-width="1.6"/>
<line x1="370.6" y1="1438.18" x2="396.6" y2="1438.18" stroke="#000" stroke-width="2.4"/>
<line x1="421.9" y1="1415.92" x2="421.9" y2="1432.36" stroke="#000" stroke-width="1.6"/>
<line x1="415.6" y1="1415.92" x2="428.2" y2="1415.92" stroke="#000" stroke-width="1.6"/>
<line x1="415.6" y1="1432.36" x2="428.2" y2="1432.36" stroke="#000" stroke-width="1.6"/>
<line x1="408.9" y1="1424.14" x2="434.9" y2="1424.14" stroke="#000" stroke-width="2.4"/>
<rect x="511.4" y="1424.6" width="11.6" height="11.6" fill="#0000ff" stroke="#000" stroke-width="1.3"/>
<circle cx="517.3" cy="1470.1" r="5.6" fill="#ff0000" stroke="#000" stroke-width="1.0"/>
<text transform="translate(550.2,1437.6) scale(1.0100,1.0000)" font-size="24.4">Vehicle</text>
<text transform="translate(550.1,1477.5) scale(1.0050,1.0000)" font-size="24.4">Phenylephrine</text>
<text transform="translate(2.2,1270.3) scale(1.0000,1.0400)" font-size="34.5" font-weight="bold">G</text>
<line x1="907.2" y1="1321.5" x2="907.2" y2="1619.9" stroke="#000" stroke-width="2.6"/>
<line x1="905.9" y1="1618.7" x2="1204.1" y2="1618.7" stroke="#000" stroke-width="2.6"/>
<line x1="894" y1="1322" x2="907.2" y2="1322" stroke="#000" stroke-width="2.4"/>
<text transform="translate(890.7,1329.8) scale(1.0000,1.0400)" text-anchor="end" font-size="22.5" font-weight="bold">0.020</text>
<line x1="894" y1="1396.9" x2="907.2" y2="1396.9" stroke="#000" stroke-width="2.4"/>
<text transform="translate(890.7,1404.7) scale(1.0000,1.0400)" text-anchor="end" font-size="22.5" font-weight="bold">0.015</text>
<line x1="894" y1="1471.2" x2="907.2" y2="1471.2" stroke="#000" stroke-width="2.4"/>
<text transform="translate(890.7,1479) scale(1.0000,1.0400)" text-anchor="end" font-size="22.5" font-weight="bold">0.010</text>
<line x1="894" y1="1544.9" x2="907.2" y2="1544.9" stroke="#000" stroke-width="2.4"/>
<text transform="translate(890.7,1552.7) scale(1.0000,1.0400)" text-anchor="end" font-size="22.5" font-weight="bold">0.005</text>
<line x1="894" y1="1618.7" x2="907.2" y2="1618.7" stroke="#000" stroke-width="2.4"/>
<text transform="translate(890.7,1626.5) scale(1.0000,1.0400)" text-anchor="end" font-size="22.5" font-weight="bold">0.000</text>
<line x1="951.5" y1="1618.7" x2="951.5" y2="1631" stroke="#000" stroke-width="2.6"/>
<line x1="1055" y1="1618.7" x2="1055" y2="1631" stroke="#000" stroke-width="2.6"/>
<line x1="1158.2" y1="1618.7" x2="1158.2" y2="1631" stroke="#000" stroke-width="2.6"/>
<text transform="translate(961,1652.2) rotate(-45) scale(1.0000,1.0400)" text-anchor="end" font-size="25" font-weight="bold">Baseline</text>
<text transform="translate(1064.5,1652.2) rotate(-45) scale(1.0000,1.0400)" text-anchor="end" font-size="25" font-weight="bold">After 1st Pacing</text>
<text transform="translate(1167.7,1652.2) rotate(-45) scale(1.0000,1.0400)" text-anchor="end" font-size="25" font-weight="bold">After 2nd Pacing</text>
<text transform="translate(817.6,1471) rotate(-90) scale(1.0000,1.0300)" text-anchor="middle" font-size="24.5" font-weight="bold">QRS interval, sec</text>
<rect x="926.8" y="1384.9" width="11.6" height="11.6" fill="#0000ff" stroke="#000" stroke-width="1.3"/>
<rect x="920.2" y="1454.6" width="11.6" height="11.6" fill="#0000ff" stroke="#000" stroke-width="1.3"/>
<rect x="933.6" y="1457.3" width="11.6" height="11.6" fill="#0000ff" stroke="#000" stroke-width="1.3"/>
<rect x="926.8" y="1465.5" width="11.6" height="11.6" fill="#0000ff" stroke="#000" stroke-width="1.3"/>
<rect x="926.8" y="1481.3" width="11.6" height="11.6" fill="#0000ff" stroke="#000" stroke-width="1.3"/>
<circle cx="971.4" cy="1484.1" r="5.6" fill="#ff0000" stroke="#000" stroke-width="1.0"/>
<circle cx="971.4" cy="1451.9" r="5.6" fill="#ff0000" stroke="#000" stroke-width="1.0"/>
<circle cx="964.2" cy="1484" r="5.6" fill="#ff0000" stroke="#000" stroke-width="1.0"/>
<circle cx="978.4" cy="1485.2" r="5.6" fill="#ff0000" stroke="#000" stroke-width="1.0"/>
<circle cx="971.3" cy="1501.8" r="5.6" fill="#ff0000" stroke="#000" stroke-width="1.0"/>
<rect x="1026.6" y="1447.5" width="11.6" height="11.6" fill="#0000ff" stroke="#000" stroke-width="1.3"/>
<rect x="1033.2" y="1450.8" width="11.6" height="11.6" fill="#0000ff" stroke="#000" stroke-width="1.3"/>
<rect x="1030.3" y="1467.9" width="11.6" height="11.6" fill="#0000ff" stroke="#000" stroke-width="1.3"/>
<rect x="1036.4" y="1474.1" width="11.6" height="11.6" fill="#0000ff" stroke="#000" stroke-width="1.3"/>
<rect x="1023" y="1477.5" width="11.6" height="11.6" fill="#0000ff" stroke="#000" stroke-width="1.3"/>
<circle cx="1074.5" cy="1438" r="5.6" fill="#ff0000" stroke="#000" stroke-width="1.0"/>
<circle cx="1081.3" cy="1456.8" r="5.6" fill="#ff0000" stroke="#000" stroke-width="1.0"/>
<circle cx="1074.8" cy="1460.3" r="5.6" fill="#ff0000" stroke="#000" stroke-width="1.0"/>
<circle cx="1067.8" cy="1471.5" r="5.6" fill="#ff0000" stroke="#000" stroke-width="1.0"/>
<circle cx="1081.7" cy="1471.5" r="5.6" fill="#ff0000" stroke="#000" stroke-width="1.0"/>
<rect x="1133.3" y="1424.6" width="11.6" height="11.6" fill="#0000ff" stroke="#000" stroke-width="1.3"/>
<rect x="1125.8" y="1461.7" width="11.6" height="11.6" fill="#0000ff" stroke="#000" stroke-width="1.3"/>
<rect x="1133.4" y="1471.8" width="11.6" height="11.6" fill="#0000ff" stroke="#000" stroke-width="1.3"/>
<rect x="1140" y="1470.2" width="11.6" height="11.6" fill="#0000ff" stroke="#000" stroke-width="1.3"/>
<rect x="1133.3" y="1492.5" width="11.6" height="11.6" fill="#0000ff" stroke="#000" stroke-width="1.3"/>
<circle cx="1177.5" cy="1471.6" r="5.6" fill="#ff0000" stroke="#000" stroke-width="1.0"/>
<circle cx="1177.6" cy="1456.3" r="5.6" fill="#ff0000" stroke="#000" stroke-width="1.0"/>
<circle cx="1170.5" cy="1469.4" r="5.6" fill="#ff0000" stroke="#000" stroke-width="1.0"/>
<circle cx="1184.7" cy="1473.9" r="5.6" fill="#ff0000" stroke="#000" stroke-width="1.0"/>
<circle cx="1170.2" cy="1482.8" r="5.6" fill="#ff0000" stroke="#000" stroke-width="1.0"/>
<line x1="932.6" y1="1437.9" x2="932.6" y2="1471.14" stroke="#000" stroke-width="1.6"/>
<line x1="926.3" y1="1437.9" x2="938.9" y2="1437.9" stroke="#000" stroke-width="1.6"/>
<line x1="926.3" y1="1471.14" x2="938.9" y2="1471.14" stroke="#000" stroke-width="1.6"/>
<line x1="919.6" y1="1454.52" x2="945.6" y2="1454.52" stroke="#000" stroke-width="2.4"/>
<line x1="971.4" y1="1473.29" x2="971.4" y2="1489.51" stroke="#000" stroke-width="1.6"/>
<line x1="965.1" y1="1473.29" x2="977.7" y2="1473.29" stroke="#000" stroke-width="1.6"/>
<line x1="965.1" y1="1489.51" x2="977.7" y2="1489.51" stroke="#000" stroke-width="1.6"/>
<line x1="958.4" y1="1481.4" x2="984.4" y2="1481.4" stroke="#000" stroke-width="2.4"/>
<line x1="1035.5" y1="1463.26" x2="1035.5" y2="1475.46" stroke="#000" stroke-width="1.6"/>
<line x1="1029.2" y1="1463.26" x2="1041.8" y2="1463.26" stroke="#000" stroke-width="1.6"/>
<line x1="1029.2" y1="1475.46" x2="1041.8" y2="1475.46" stroke="#000" stroke-width="1.6"/>
<line x1="1022.5" y1="1469.36" x2="1048.5" y2="1469.36" stroke="#000" stroke-width="2.4"/>
<line x1="1074.6" y1="1453.46" x2="1074.6" y2="1465.78" stroke="#000" stroke-width="1.6"/>
<line x1="1068.3" y1="1453.46" x2="1080.9" y2="1453.46" stroke="#000" stroke-width="1.6"/>
<line x1="1068.3" y1="1465.78" x2="1080.9" y2="1465.78" stroke="#000" stroke-width="1.6"/>
<line x1="1061.6" y1="1459.62" x2="1087.6" y2="1459.62" stroke="#000" stroke-width="2.4"/>
<line x1="1139" y1="1458.85" x2="1139" y2="1481.07" stroke="#000" stroke-width="1.6"/>
<line x1="1132.7" y1="1458.85" x2="1145.3" y2="1458.85" stroke="#000" stroke-width="1.6"/>
<line x1="1132.7" y1="1481.07" x2="1145.3" y2="1481.07" stroke="#000" stroke-width="1.6"/>
<line x1="1126" y1="1469.96" x2="1152" y2="1469.96" stroke="#000" stroke-width="2.4"/>
<line x1="1177.6" y1="1466.52" x2="1177.6" y2="1475.08" stroke="#000" stroke-width="1.6"/>
<line x1="1171.3" y1="1466.52" x2="1183.9" y2="1466.52" stroke="#000" stroke-width="1.6"/>
<line x1="1171.3" y1="1475.08" x2="1183.9" y2="1475.08" stroke="#000" stroke-width="1.6"/>
<line x1="1164.6" y1="1470.8" x2="1190.6" y2="1470.8" stroke="#000" stroke-width="2.4"/>
<rect x="1254.3" y="1424.8" width="11.6" height="11.6" fill="#0000ff" stroke="#000" stroke-width="1.3"/>
<circle cx="1260.2" cy="1470.2" r="5.6" fill="#ff0000" stroke="#000" stroke-width="1.0"/>
<text transform="translate(1293.4,1437.6) scale(1.0100,1.0000)" font-size="24.4">Vehicle</text>
<text transform="translate(1293.3,1477.4) scale(1.0050,1.0000)" font-size="24.4">Phenylephrine</text>
<text transform="translate(749.5,1269.8) scale(1.0000,1.0400)" font-size="34.5" font-weight="bold">H</text>
</svg></body></html>
